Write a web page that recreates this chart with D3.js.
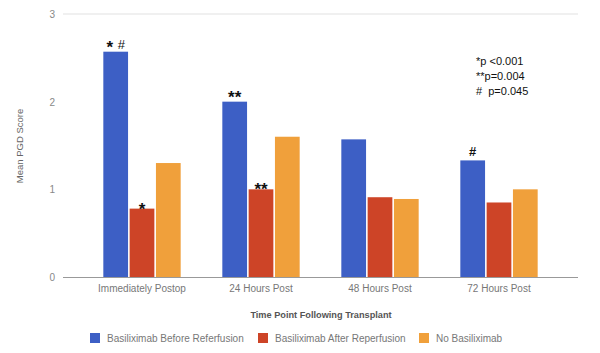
<!DOCTYPE html>
<html>
<head>
<meta charset="utf-8">
<script src="https://cdn.jsdelivr.net/npm/d3@7/dist/d3.min.js"></script>
<style>
  body { margin: 0; background: #fff; }
  svg { display: block; font-family: "Liberation Sans", Arial, sans-serif; }
</style>
</head>
<body>
<svg id="chart" width="600" height="353"></svg>
<script>
const categories = ["Immediately Postop", "24 Hours Post", "48 Hours Post", "72 Hours Post"];
const seriesNames = ["Basiliximab Before Referfusion", "Basiliximab After Reperfusion", "No Basiliximab"];
const beforeValues = [2.57, 2.0, 1.57, 1.33];
const afterValues = [0.78, 1.0, 0.91, 0.85];
const noneValues = [1.30, 1.60, 0.89, 1.0];
const yTicks = [0, 1, 2, 3];
const colors = ["#3d5fc5", "#cd4427", "#f0a03b"];
// significance marks: [category index, series index, label]
const marks = [[0, 0, "* #"], [1, 0, "**"], [0, 1, "*"], [1, 1, "**"], [3, 0, "#"]];
const pNotes = ["*p <0.001", "**p=0.004", "#  p=0.045"];

const svg = d3.select("#chart");
const values = [beforeValues, afterValues, noneValues];

const y = d3.scaleLinear().domain([0, 3]).range([277, 14]);
const x0 = d3.scaleBand().domain(categories).range([82.5, 558.5])
  .paddingInner(0.35).paddingOuter(0.175);
const x1 = d3.scaleBand().domain(d3.range(3)).range([0, x0.bandwidth()]).paddingInner(0.06);

// top grid line
svg.append("line").attr("x1", 63).attr("x2", 578)
  .attr("y1", y(3)).attr("y2", y(3)).attr("stroke", "#e2e2e2").attr("stroke-width", 1.2);

// y tick labels
svg.selectAll(".ytick").data(yTicks).enter().append("text")
  .attr("x", 55).attr("y", d => y(d) + 4)
  .attr("text-anchor", "end").attr("font-size", 10).attr("fill", "#888")
  .text(d => d);

// bars
categories.forEach((c, i) => {
  values.forEach((vals, s) => {
    svg.append("rect")
      .attr("x", x0(c) + x1(s))
      .attr("y", y(vals[i]))
      .attr("width", x1.bandwidth())
      .attr("height", y(0) - y(vals[i]))
      .attr("fill", colors[s]);
  });
});

svg.append("line").attr("x1", 63).attr("x2", 578)
  .attr("y1", y(0) + 0.5).attr("y2", y(0) + 0.5).attr("stroke", "#999").attr("stroke-width", 1.2);

// x labels
svg.selectAll(".xlab").data(categories).enter().append("text")
  .attr("x", d => x0(d) + x0.bandwidth() / 2).attr("y", 292)
  .attr("text-anchor", "middle").attr("font-size", 10).attr("fill", "#777")
  .text(d => d);

// axis titles
svg.append("text").attr("x", 321).attr("y", 318).attr("text-anchor", "middle")
  .attr("font-size", 9.2).attr("font-weight", "bold").attr("fill", "#555")
  .text("Time Point Following Transplant");

svg.append("text").attr("transform", "translate(23,146) rotate(-90)")
  .attr("text-anchor", "middle").attr("font-size", 9.5).attr("fill", "#666")
  .text("Mean PGD Score");

// significance marks above bars
marks.forEach(([ci, s, label]) => {
  const v = values[s][ci];
  const hash = label === "#";
  const dy = hash ? -4 : label.includes("#") ? 1 : (s === 0 ? 1 : 6);
  svg.append("text")
    .attr("x", x0(categories[ci]) + x1(s) + x1.bandwidth() / 2)
    .attr("y", y(v) + dy)
    .attr("text-anchor", "middle")
    .attr("font-size", hash ? 13 : 17).attr("font-weight", "bold").attr("fill", "#111")
    .style("white-space", "pre")
    .each(function () {
      const t = d3.select(this);
      if (label.includes("#") && !hash) {
        t.append("tspan").text("* ");
        t.append("tspan").attr("font-size", 13).attr("font-weight", "normal").attr("dy", -4).text("#");
      } else {
        t.text(label);
      }
    });
});

// p-value notes
svg.selectAll(".pnote").data(pNotes).enter().append("text")
  .attr("x", 476).attr("y", (d, i) => 65 + i * 15)
  .attr("font-size", 11).attr("fill", "#111")
  .style("white-space", "pre")
  .text(d => d);

// legend
const legendX = [90, 258, 419];
seriesNames.forEach((name, s) => {
  svg.append("rect").attr("x", legendX[s]).attr("y", 333)
    .attr("width", 10).attr("height", 10).attr("fill", colors[s]);
  svg.append("text").attr("x", legendX[s] + 17).attr("y", 342)
    .attr("font-size", 10).attr("fill", "#777").text(name);
});
</script>
</body>
</html>
